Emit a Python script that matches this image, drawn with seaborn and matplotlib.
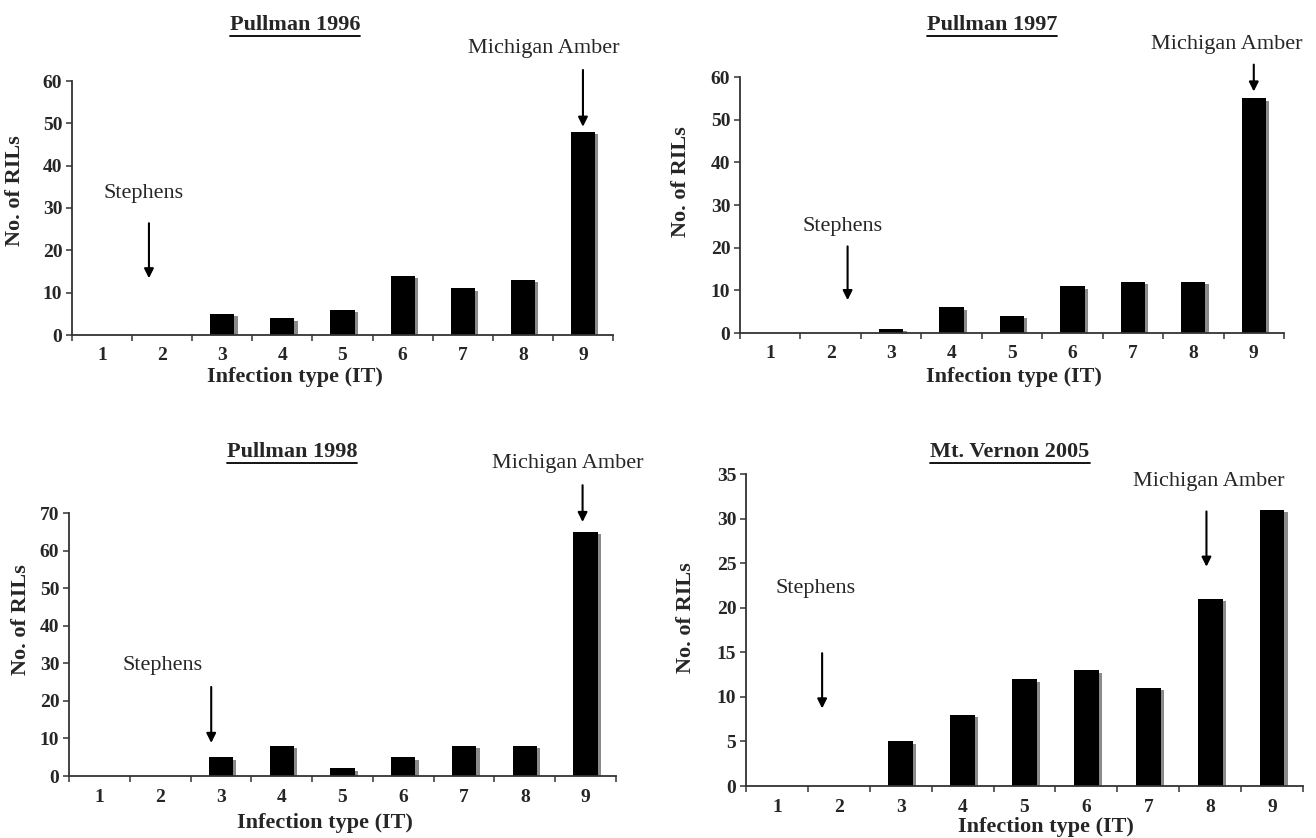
import matplotlib
matplotlib.use("Agg")
import matplotlib.pyplot as plt
import matplotlib.patheffects as pe
from matplotlib.lines import Line2D
import seaborn as sns

# data
infection_types = ["1", "2", "3", "4", "5", "6", "7", "8", "9"]
pullman_1996 = [0, 0, 5, 4, 6, 14, 11, 13, 48]
pullman_1997 = [0, 0, 1, 6, 4, 11, 12, 12, 55]
pullman_1998 = [0, 0, 5, 8, 2, 5, 8, 8, 65]
mt_vernon_2005 = [0, 0, 5, 8, 12, 13, 11, 21, 31]
panel_titles = ["Pullman 1996", "Pullman 1997", "Pullman 1998", "Mt. Vernon 2005"]
y_max = [60, 60, 70, 35]
y_step = [10, 10, 10, 5]

W, H = 1316, 838
sns.set_style("ticks")
plt.rcParams["font.family"] = ["Liberation Serif", "DejaVu Serif"]

# layout in pixels: axes box (left, right, y of zero, y of top), title, labels, arrows
panels = [
    dict(box=(72, 613, 335, 81), title=(295, 25), xlab=(295, 377), ylab=(15, 191),
         steph=(0.69, 33.5, 0.78, 26.4, 13.4), mich=(7.34, 67.7, 8.0, 62.6, 49.2)),
    dict(box=(740, 1284, 333, 77), title=(992, 25), xlab=(1014, 377), ylab=(681, 182),
         steph=(1.19, 24.9, 1.28, 20.3, 7.7), mich=(7.56, 67.6, 8.0, 62.9, 56.6)),
    dict(box=(69, 616, 776, 513), title=(292, 452), xlab=(325, 823), ylab=(21, 620),
         steph=(1.04, 29.5, 1.84, 23.7, 8.8), mich=(7.71, 83.2, 7.95, 77.4, 67.6)),
    dict(box=(746, 1303, 786, 474), title=(1010, 452), xlab=(1046, 827), ylab=(686, 618),
         steph=(0.63, 22.2, 0.73, 14.9, 8.7), mich=(6.97, 34.2, 6.94, 30.8, 24.6)),
]
series = [pullman_1996, pullman_1997, pullman_1998, mt_vernon_2005]

fig = plt.figure(figsize=(W / 100, H / 100), dpi=100)
title_texts = []

for p, values, title, ymax, step in zip(panels, series, panel_titles, y_max, y_step):
    left, right, y0, ytop = p["box"]
    ax = fig.add_axes([left / W, 1 - y0 / H, (right - left) / W, (y0 - ytop) / H])

    sns.barplot(x=infection_types, y=values, ax=ax, color="black", saturation=1,
                width=0.4, errorbar=None, edgecolor="none")
    shadow = [pe.SimplePatchShadow(offset=(2.4, -1.8), shadow_rgbFace="#8a8a8a", alpha=1),
              pe.Normal()]
    for bar in ax.patches:
        bar.set_path_effects(shadow)

    ax.set_xlim(-0.5, 8.5)
    ax.set_ylim(0, ymax)
    ax.set_yticks(range(0, ymax + 1, step))
    ax.set_xticks(range(9))
    ax.set_xticks([i + 0.5 for i in range(-1, 9)], minor=True)
    ax.tick_params(axis="x", which="major", length=0, pad=9, labelsize=14)
    ax.tick_params(axis="x", which="minor", length=4, width=1.1, color="#333333")
    ax.tick_params(axis="y", length=4, width=1.1, color="#333333", pad=3, labelsize=14)
    for lab in ax.get_xticklabels() + ax.get_yticklabels():
        lab.set_fontweight("bold")
    sns.despine(ax=ax)
    for s in ("left", "bottom"):
        ax.spines[s].set_linewidth(1.3)
        ax.spines[s].set_color("#333333")

    def to_axes(px, py):
        return (px - left) / (right - left), (y0 - py) / (y0 - ytop)

    ax.set_xlabel("Infection type (IT)", fontsize=16, fontweight="bold")
    ax.xaxis.set_label_coords(*to_axes(*p["xlab"]))
    ax.xaxis.label.set_va("center")
    ax.set_ylabel("No. of RILs", fontsize=16, fontweight="bold")
    ax.yaxis.set_label_coords(*to_axes(*p["ylab"]))
    ax.yaxis.label.set_va("center")

    for name, (tx, ty, ax_x, a_top, a_tip) in (("Stephens", p["steph"]),
                                               ("Michigan Amber", p["mich"])):
        ax.text(tx, ty, name, ha="center", va="center", fontsize=16, clip_on=False)
        ax.annotate("", xy=(ax_x, a_tip), xytext=(ax_x, a_top), annotation_clip=False,
                    arrowprops=dict(arrowstyle="-|>", color="black", lw=1.5,
                                    mutation_scale=14, shrinkA=0, shrinkB=0))

    tx, ty = p["title"]
    t = fig.text(tx / W, 1 - ty / H, title, ha="center", va="center",
                 fontsize=16, fontweight="bold")
    title_texts.append(t)

# underline the panel titles
fig.canvas.draw()
renderer = fig.canvas.get_renderer()
for t in title_texts:
    bb = t.get_window_extent(renderer)
    yline = (bb.y0 - 1.5) / H
    fig.add_artist(Line2D([bb.x0 / W, bb.x1 / W], [yline, yline], color="black", lw=1.3))

fig.savefig("out.png", dpi=100)
